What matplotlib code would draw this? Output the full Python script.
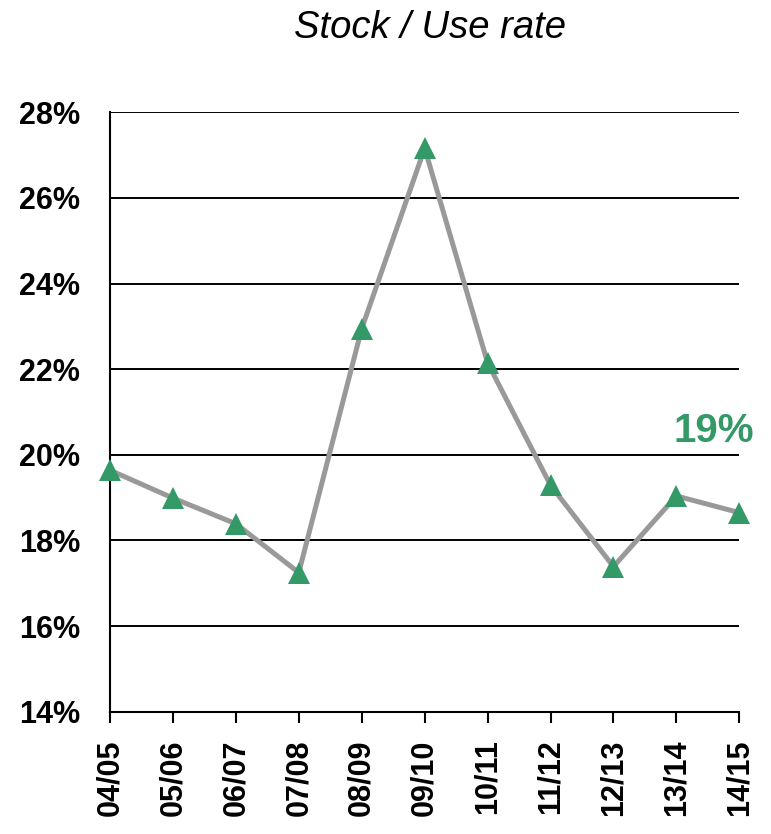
import matplotlib
matplotlib.use("Agg")
import matplotlib.pyplot as plt
from matplotlib.ticker import FuncFormatter

seasons = ["04/05", "05/06", "06/07", "07/08", "08/09", "09/10",
           "10/11", "11/12", "12/13", "13/14", "14/15"]
stock_use = [19.64, 18.99, 18.39, 17.25, 22.95, 27.16,
             22.15, 19.29, 17.39, 19.04, 18.65]
y_ticks = [14, 16, 18, 20, 22, 24, 26, 28]
title = "Stock / Use rate"

green = "#339966"
gray = "#999999"
font = "Liberation Sans"

fig = plt.figure(figsize=(7.71, 8.34), dpi=100)
ax = fig.add_axes([0.1427, 0.1466, 0.9589 - 0.1427, 0.8653 - 0.1466])

x = list(range(len(seasons)))
ax.plot(x, stock_use, color=gray, lw=3.6, zorder=3, clip_on=False)
ax.plot(x, stock_use, ls="none", marker="^", ms=15.5, mew=0,
        color=green, zorder=4, clip_on=False)

ax.set_xlim(0, len(seasons) - 1)
ax.set_ylim(14, 28)
ax.set_yticks(y_ticks)
ax.yaxis.set_major_formatter(FuncFormatter(lambda v, p: f"{v:.0f}%"))
ax.set_xticks(x)
ax.set_xticklabels(seasons, rotation=90)

for v in y_ticks:
    ax.axhline(v, color="black", lw=1.4, zorder=1)

for s in ["top", "right"]:
    ax.spines[s].set_visible(False)
for s in ["left", "bottom"]:
    ax.spines[s].set_linewidth(1.5)
    ax.spines[s].set_color("black")

ax.tick_params(axis="y", length=0, pad=21.5)
ax.tick_params(axis="x", length=8, width=1.5, direction="out", pad=12)
for lab in ax.get_xticklabels() + ax.get_yticklabels():
    lab.set_fontfamily(font)
    lab.set_fontweight("bold")
    lab.set_fontsize(22)

ax.text(9.6, 20.55, f"{round(stock_use[-1])}%", color=green,
        fontfamily=font, fontweight="bold", fontsize=29,
        ha="center", va="center")

fig.text(430 / 771, 1 - 28 / 834, title, fontfamily=font, style="italic",
         fontsize=27.5, ha="center", va="center")

fig.savefig("out.png", dpi=100)
